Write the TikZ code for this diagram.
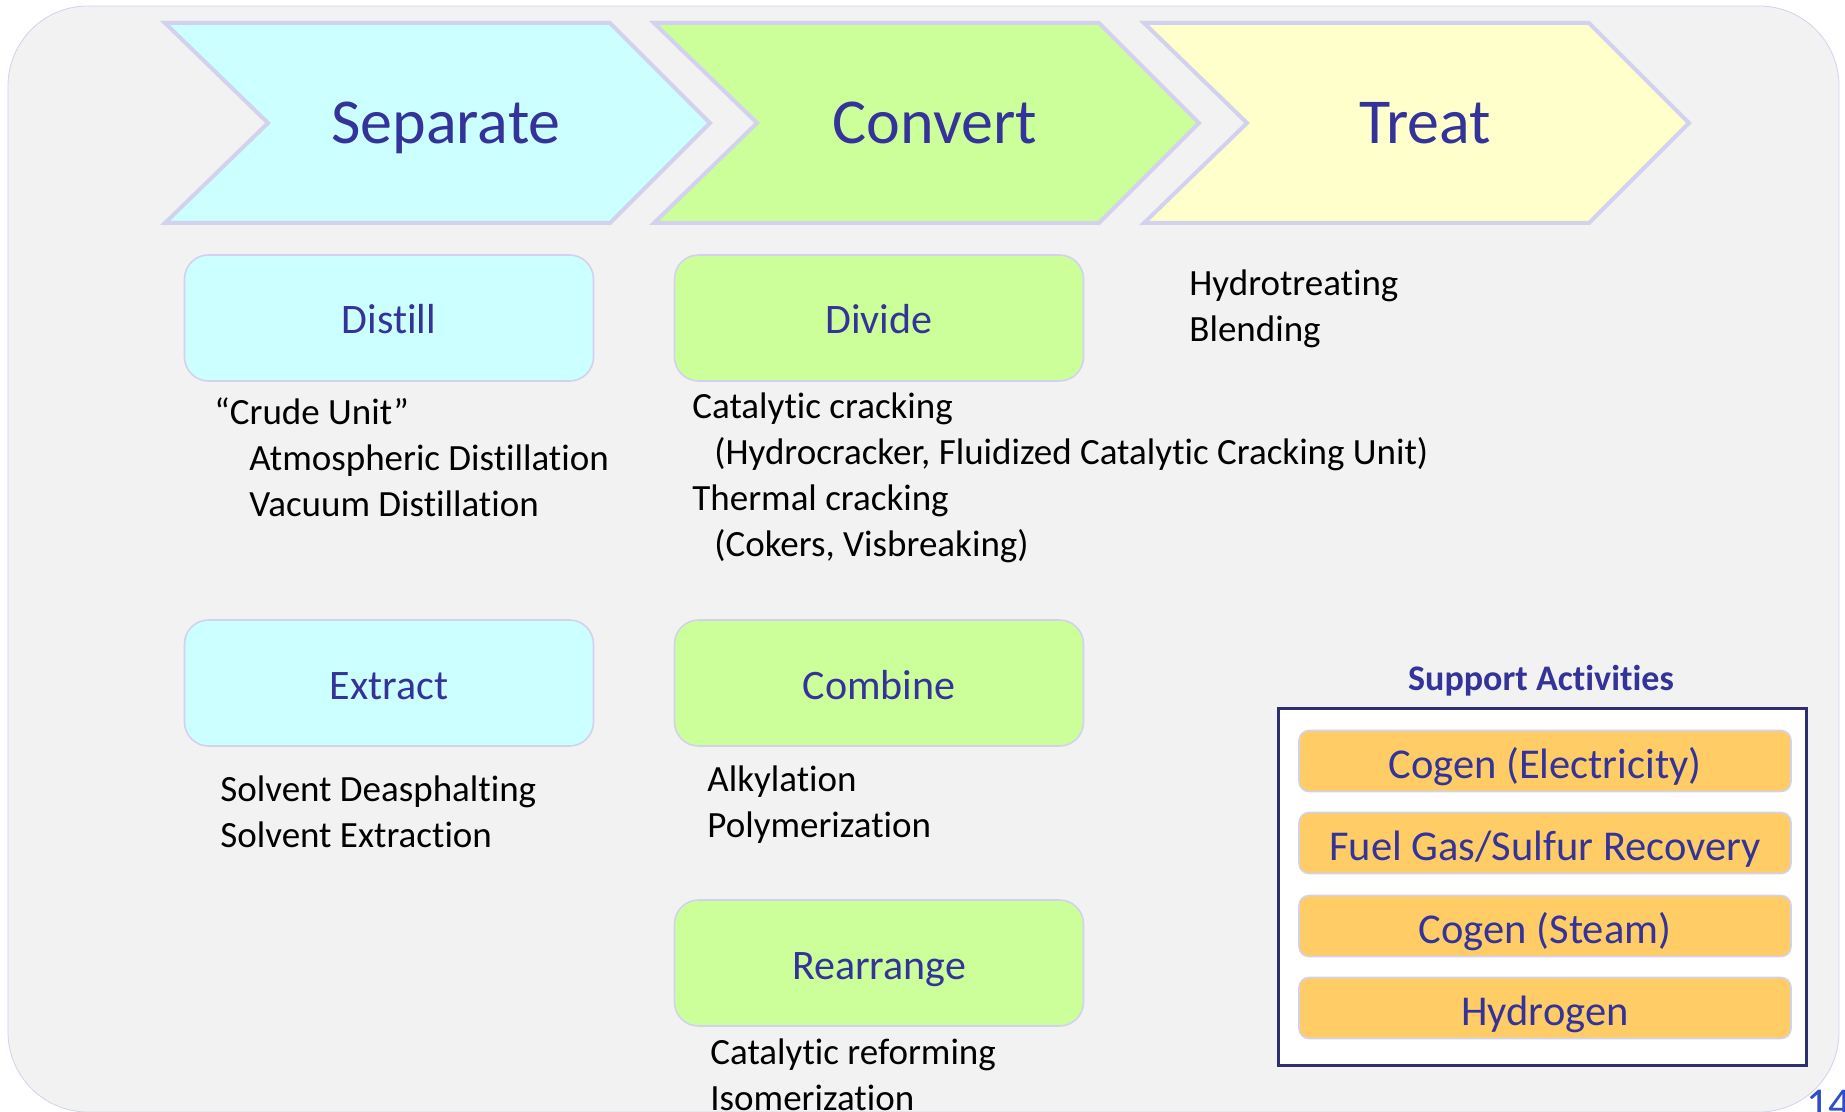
\documentclass[tikz,border=0pt]{standalone}
\usepackage{fontspec}
\setmainfont{Carlito}[Ligatures=NoCommon]

\definecolor{navytext}{HTML}{333399}
\definecolor{lavender}{HTML}{D2D2EE}
\definecolor{pagebg}{HTML}{F2F2F2}
\definecolor{sepfill}{HTML}{CCFFFF}
\definecolor{convfill}{HTML}{CCFF99}
\definecolor{treatfill}{HTML}{FFFFCC}
\definecolor{suppfill}{HTML}{FFCC66}
\definecolor{suppframe}{HTML}{2E2E70}
\definecolor{pagenum}{HTML}{2F4FC8}

\tikzset{
  chevron/.style={draw=lavender,line width=2pt},
  stage/.style={text=navytext,font=\fontsize{32}{38}\selectfont,
    text height=25pt,text depth=4pt},
  process/.style={draw=lavender,line width=0.8pt,rounded corners=12pt,
    minimum width=204.5pt,minimum height=63pt,text=navytext,
    text height=18pt,text depth=2pt,
    font=\fontsize{21}{25}\selectfont},
  notes/.style={align=left,anchor=north west,inner sep=0pt,
    font=\fontsize{18.5}{23}\selectfont},
  support/.style={draw=lavender,line width=0.8pt,fill=suppfill,
    rounded corners=5pt,minimum width=246pt,minimum height=30.5pt,
    inner ysep=2pt,text height=19pt,text depth=2pt,
    text=navytext,font=\fontsize{21.25}{25}\selectfont},
}

\begin{document}
\begin{tikzpicture}[x=0.5pt,y=-0.5pt]
\useasboundingbox (0,0) rectangle (1845,1112);
\draw[draw=lavender,fill=pagebg,rounded corners=40pt] (8,6) rectangle (1839,1112);

% the three stages
\draw[chevron,fill=sepfill] (165,23) -- (610,23) -- (710,123) -- (610,223)
  -- (165,223) -- (268,123) -- cycle;
\node[stage] (separate) at (446,123) {Separate};
\begin{scope}[xshift=244.5pt]
\draw[chevron,fill=convfill] (165,23) -- (610,23) -- (710,123) -- (610,223)
  -- (165,223) -- (268,123) -- cycle;
\node[stage] (convert) at (446,123) {Convert};
\end{scope}
\begin{scope}[xshift=489.5pt]
\draw[chevron,fill=treatfill] (165,23) -- (610,23) -- (710,123) -- (610,223)
  -- (165,223) -- (268,123) -- cycle;
\node[stage] (treat) at (446,123) {Treat};
\end{scope}

% separate
\node[process,fill=sepfill] (distill) at (389,318) {Distill};
\node[notes] (distillnotes) at (214,397) {“Crude Unit”\\
  \hspace*{17.5pt}Atmospheric Distillation\\
  \hspace*{17.5pt}Vacuum Distillation};
\node[process,fill=sepfill] (extract) at (389,683) {Extract};
\node[notes] (extractnotes) at (220,775) {Solvent Deasphalting\\Solvent Extraction};

% convert
\node[process,fill=convfill] (divide) at (879,318) {Divide};
\node[notes] (dividenotes) at (692,392) {Catalytic cracking\\
  \hspace*{11pt}(Hydrocracker, Fluidized Catalytic Cracking Unit)\\
  Thermal cracking\\
  \hspace*{11pt}(Cokers, Visbreaking)};
\node[process,fill=convfill] (combine) at (879,683) {Combine};
\node[notes] (combinenotes) at (707,765) {Alkylation\\Polymerization};
\node[process,fill=convfill] (rearrange) at (879,963) {Rearrange};
\node[notes] (rearrangenotes) at (710,1038) {Catalytic reforming\\Isomerization};

% treat
\node[notes] (treatnotes) at (1189,269) {Hydrotreating\\Blending};

% support activities
\node[text=navytext,font=\fontsize{18}{22}\selectfont\bfseries] (supptitle)
  at (1541,681) {Support Activities};
\node[draw=suppframe,line width=1.5pt,fill=white,minimum width=264pt,
  minimum height=178.5pt] (suppbox) at (1542,886.5) {};
\node[support] (elec) at (1545,761) {Cogen (Electricity)};
\node[support] (fuelgas) at (1545,843) {Fuel Gas/Sulfur Recovery};
\node[support] (steam) at (1545,926) {Cogen (Steam)};
\node[support] (hydrogen) at (1545,1008) {Hydrogen};

\node[anchor=base west,inner sep=0pt,text=pagenum,font=\fontsize{22}{26}\selectfont]
  (pageno) at (1806,1118) {14};
\end{tikzpicture}
\end{document}
